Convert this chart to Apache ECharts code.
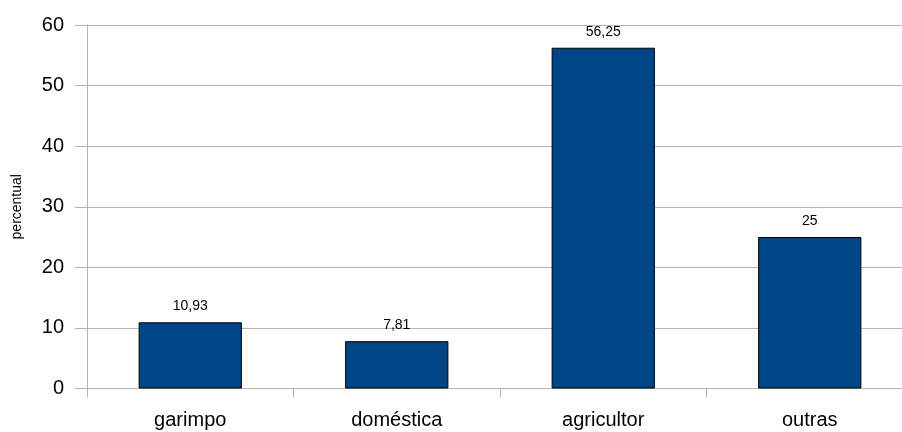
<!DOCTYPE html>
<html><head><meta charset="utf-8">
<script src="https://cdn.jsdelivr.net/npm/echarts@6/dist/echarts.min.js"></script>
<style>html,body{margin:0;padding:0;background:#fff;overflow:hidden}#c{width:913px;height:432px}</style>
</head><body><div id="c"></div>
<script>
var categories = ['garimpo', 'doméstica', 'agricultor', 'outras'];
var values = [10.93, 7.81, 56.25, 25];
var yTicks = { min: 0, max: 60, interval: 10 };
var yName = 'percentual';

var chart = echarts.init(document.getElementById('c'), null, { renderer: 'canvas' });
var F = '"Liberation Sans", Arial, sans-serif';
chart.setOption({
  animation: false,
  backgroundColor: '#fff',
  grid: { left: 87, top: 25, right: 0, bottom: 43.5, containLabel: false },
  xAxis: {
    type: 'category', data: categories,
    axisLine: { show: true, lineStyle: { color: '#b3b3b3', width: 1 } },
    axisTick: { show: true, length: 9, lineStyle: { color: '#b3b3b3' }, alignWithLabel: false },
    axisLabel: { color: '#000', fontFamily: F, fontSize: 20, margin: 22 },
    splitLine: { show: false }
  },
  yAxis: {
    type: 'value', min: yTicks.min, max: yTicks.max, interval: yTicks.interval,
    name: yName, nameLocation: 'middle', nameRotate: 90, nameGap: 63,
    nameTextStyle: { color: '#000', fontFamily: F, fontSize: 14 },
    axisLine: { show: true, lineStyle: { color: '#b3b3b3', width: 1 } },
    axisTick: { show: true, length: 12, lineStyle: { color: '#b3b3b3' } },
    axisLabel: { color: '#000', fontFamily: F, fontSize: 20, margin: 23 },
    splitLine: { show: true, lineStyle: { color: '#b3b3b3', width: 1 } }
  },
  series: [{
    type: 'bar', data: values, barWidth: '50%',
    itemStyle: { color: '#004586', borderColor: '#000', borderWidth: 1 },
    label: {
      show: true, position: 'top', distance: 9, color: '#000', fontFamily: F, fontSize: 14,
      formatter: function (p) { return String(p.value).replace('.', ','); }
    }
  }]
});
</script></body></html>
